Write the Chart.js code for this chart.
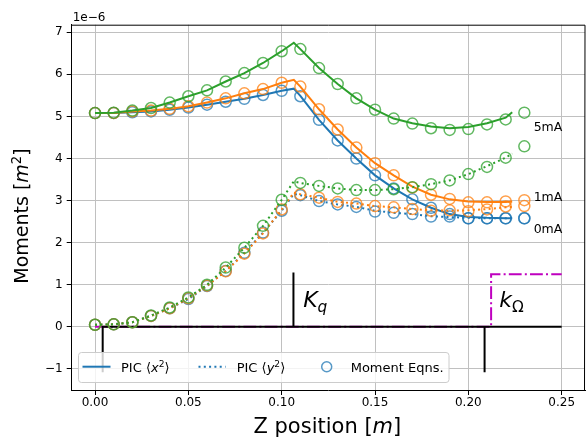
<!DOCTYPE html>
<html>
<head>
<meta charset="utf-8">
<script src="https://cdn.jsdelivr.net/npm/chart.js@4.4.1/dist/chart.umd.min.js"></script>
<style>
  html, body { margin: 0; padding: 0; background: #fff; overflow: hidden; }
  #wrap { position: relative; width: 592px; height: 437px; }
</style>
</head>
<body>
<div id="wrap"><canvas id="chart"></canvas></div>
<script>
// Z positions of the moment-equation markers and the PIC curves [m]
const momZ = [0.00, 0.01, 0.02, 0.03, 0.04, 0.05, 0.06, 0.07, 0.08, 0.09, 0.10, 0.11,
              0.12, 0.13, 0.14, 0.15, 0.16, 0.17, 0.18, 0.19, 0.20, 0.21, 0.22, 0.23]
const picZ = [0.00, 0.01, 0.02, 0.03, 0.04, 0.05, 0.06, 0.07, 0.08, 0.09, 0.10, 0.1065,
              0.11, 0.12, 0.13, 0.14, 0.15, 0.16, 0.17, 0.18, 0.19, 0.20, 0.21, 0.22, 0.2235]

// PIC <x^2> (units of 1e-6 m^2)
const pic0mA_x2 = [5.08, 5.08, 5.10, 5.12, 5.16, 5.21, 5.28, 5.35, 5.42, 5.51, 5.61, 5.66,
                   5.49, 4.92, 4.43, 4.00, 3.60, 3.29, 3.03, 2.83, 2.68, 2.61, 2.59, 2.58, 2.58]
const pic1mA_x2 = [5.08, 5.08, 5.12, 5.14, 5.18, 5.24, 5.33, 5.43, 5.55, 5.65, 5.80, 5.87,
                   5.71, 5.17, 4.69, 4.26, 3.89, 3.60, 3.33, 3.14, 3.03, 2.98, 2.97, 2.97, 2.98]
const pic5mA_x2 = [5.08, 5.09, 5.14, 5.20, 5.33, 5.48, 5.62, 5.83, 6.03, 6.27, 6.55, 6.75,
                   6.60, 6.15, 5.77, 5.43, 5.16, 4.95, 4.84, 4.76, 4.72, 4.75, 4.84, 4.97, 5.10]
// PIC <y^2>
const pic0mA_y2 = [0.05, 0.06, 0.11, 0.26, 0.44, 0.66, 0.97, 1.33, 1.76, 2.24, 2.76, 3.16,
                   3.13, 2.99, 2.91, 2.85, 2.76, 2.71, 2.68, 2.63, 2.61, 2.59, 2.58, 2.58, 2.58]
const pic1mA_y2 = [0.05, 0.06, 0.11, 0.26, 0.44, 0.68, 0.98, 1.32, 1.74, 2.22, 2.79, 3.19,
                   3.15, 3.07, 2.97, 2.93, 2.87, 2.84, 2.80, 2.77, 2.76, 2.77, 2.80, 2.84, 2.85]
const pic5mA_y2 = [0.05, 0.06, 0.11, 0.27, 0.46, 0.70, 1.00, 1.41, 1.88, 2.40, 3.02, 3.46,
                   3.42, 3.35, 3.29, 3.25, 3.25, 3.27, 3.32, 3.39, 3.48, 3.63, 3.82, 4.02, 4.12]

// moment equations
const mom0mA_x2 = [5.08, 5.08, 5.10, 5.12, 5.16, 5.21, 5.28, 5.35, 5.42, 5.51, 5.61, 5.48,
                   4.92, 4.43, 4.00, 3.60, 3.29, 3.03, 2.83, 2.62, 2.58, 2.58, 2.58, 2.58]
const mom1mA_x2 = [5.08, 5.08, 5.12, 5.14, 5.18, 5.24, 5.33, 5.43, 5.55, 5.65, 5.80, 5.71,
                   5.17, 4.69, 4.26, 3.89, 3.60, 3.31, 3.14, 3.04, 2.96, 2.96, 2.98, 3.01]
const mom5mA_x2 = [5.08, 5.09, 5.14, 5.20, 5.33, 5.48, 5.62, 5.83, 6.03, 6.27, 6.55, 6.60,
                   6.15, 5.77, 5.43, 5.16, 4.95, 4.83, 4.72, 4.68, 4.70, 4.81, 4.93, 5.09]
const mom0mA_y2 = [0.05, 0.06, 0.11, 0.26, 0.44, 0.66, 0.97, 1.33, 1.76, 2.24, 2.76, 3.13,
                   2.99, 2.91, 2.85, 2.74, 2.71, 2.68, 2.62, 2.68, 2.58, 2.58, 2.58, 2.58]
const mom1mA_y2 = [0.05, 0.06, 0.11, 0.26, 0.44, 0.68, 0.98, 1.32, 1.74, 2.22, 2.79, 3.15,
                   3.07, 2.97, 2.93, 2.87, 2.84, 2.80, 2.76, 2.77, 2.75, 2.79, 2.86, 2.87]
const mom5mA_y2 = [0.05, 0.06, 0.11, 0.27, 0.46, 0.70, 1.00, 1.41, 1.88, 2.40, 3.02, 3.42,
                   3.35, 3.29, 3.25, 3.25, 3.27, 3.32, 3.39, 3.48, 3.63, 3.80, 4.02, 4.29]

// lattice element markers (quadrupole K_q and solenoid k_Omega)
const kqZ = [0.0041, 0.0041, 0.1063, 0.1063, 0.1063, 0.2087, 0.2087, 0.2087, 0.25]
const kqV = [-1.08, 0, 0, 1.29, 0, 0, -1.08, 0, 0]
const kOmZ = [0.00, 0.2122, 0.2122, 0.25]
const kOmV = [0, 0, 1.25, 1.25]

const xTicks = [0.00, 0.05, 0.10, 0.15, 0.20, 0.25]
const yTicks = [-1, 0, 1, 2, 3, 4, 5, 6, 7]

const FONT = "'DejaVu Sans', sans-serif"
const BLUE = '#1f77b4', ORANGE = '#ff7f0e', GREEN = '#2ca02c'
const FADED = { [BLUE]: 'rgba(31,119,180,0.75)', [ORANGE]: 'rgba(255,127,14,0.75)', [GREEN]: 'rgba(44,160,44,0.75)' }

const toXY = (xs, ys) => xs.map((x, i) => ({ x, y: ys[i] }))

function picLine(label, ys, color, dotted, order) {
  return {
    label, data: toXY(picZ, ys), showLine: true, borderColor: color, borderWidth: 2,
    borderDash: dotted ? [2, 3.3] : [], pointRadius: 0, tension: 0, fill: false, order,
  }
}
function momMarks(label, ys, color, order) {
  return {
    label, data: toXY(momZ, ys), showLine: false, pointStyle: 'circle', pointRadius: 5.5,
    pointBorderWidth: 1.5, pointBorderColor: FADED[color], pointBackgroundColor: 'rgba(0,0,0,0)', order,
  }
}

// mixed italic / super / subscript text, roughly like matplotlib mathtext
function rich(ctx, parts, x, y, size, align) {
  const segs = parts.map(p => {
    const s = p.sup || p.sub ? size * 0.7 : size
    const font = `${p.it ? 'italic ' : ''}${s}px ${FONT}`
    ctx.font = font
    return { t: p.t, font, w: ctx.measureText(p.t).width, dy: p.sup ? -size * 0.36 : p.sub ? size * 0.22 : 0 }
  })
  const total = segs.reduce((a, s) => a + s.w, 0)
  let cx = align === 'center' ? x - total / 2 : x
  ctx.textAlign = 'left'
  ctx.textBaseline = 'alphabetic'
  for (const s of segs) { ctx.font = s.font; ctx.fillText(s.t, cx, y + s.dy); cx += s.w }
}

const framePlugin = {
  id: 'frame',
  beforeDatasetsDraw(chart) {
    const { ctx, chartArea: a } = chart
    ctx.save()
    ctx.strokeStyle = '#000'
    ctx.lineWidth = 1
    ctx.beginPath()
    ctx.moveTo(a.left, a.top + 0.5)
    ctx.lineTo(a.right, a.top + 0.5)
    ctx.lineTo(a.right - 0.5, a.bottom)
    ctx.stroke()
    ctx.restore()
  },
}

const textPlugin = {
  id: 'texts',
  afterDraw(chart) {
    const { ctx, chartArea: a, scales: { x, y } } = chart
    ctx.save()
    ctx.fillStyle = '#000'

    ctx.font = `12px ${FONT}`
    ctx.textAlign = 'left'
    ctx.textBaseline = 'alphabetic'
    ctx.fillText('1e\u22126', a.left + 1, 21)

    rich(ctx, [{ t: 'Z position [' }, { t: 'm', it: true }, { t: ']' }], (a.left + a.right) / 2 - 1, 433, 21, 'center')

    ctx.save()
    ctx.translate(28, 216)
    ctx.rotate(-Math.PI / 2)
    rich(ctx, [{ t: 'Moments [' }, { t: 'm', it: true }, { t: '2', sup: true }, { t: ']' }], 0, 0, 19, 'center')
    ctx.restore()

    rich(ctx, [{ t: 'K', it: true }, { t: 'q', it: true, sub: true }], x.getPixelForValue(0.1115), y.getPixelForValue(0.47), 22)
    rich(ctx, [{ t: 'k', it: true }, { t: '\u03A9', sub: true }], x.getPixelForValue(0.2165), y.getPixelForValue(0.47), 22)

    ctx.font = `12.5px ${FONT}`
    ctx.textAlign = 'left'
    const lx = x.getPixelForValue(0.235)
    ctx.fillText('5mA', lx, y.getPixelForValue(4.65))
    ctx.fillText('1mA', lx, y.getPixelForValue(2.99))
    ctx.fillText('0mA', lx, y.getPixelForValue(2.24))

    // legend
    ctx.fillStyle = 'rgba(255,255,255,0.8)'
    ctx.strokeStyle = '#cccccc'
    ctx.lineWidth = 1
    ctx.beginPath()
    ctx.roundRect(78.5, 352.5, 370.5, 30, 3)
    ctx.fill()
    ctx.stroke()
    const ly = 366.7
    ctx.strokeStyle = BLUE
    ctx.lineWidth = 2
    ctx.beginPath(); ctx.moveTo(82.5, ly); ctx.lineTo(110.5, ly); ctx.stroke()
    ctx.setLineDash([2, 3.3])
    ctx.beginPath(); ctx.moveTo(198.5, ly); ctx.lineTo(225.5, ly); ctx.stroke()
    ctx.setLineDash([])
    ctx.strokeStyle = FADED[BLUE]
    ctx.lineWidth = 1.5
    ctx.beginPath(); ctx.arc(326.7, ly, 5, 0, Math.PI * 2); ctx.stroke()
    ctx.fillStyle = '#000'
    rich(ctx, [{ t: 'PIC \u27E8' }, { t: 'x', it: true }, { t: '2', sup: true }, { t: '\u27E9' }], 121, 371.5, 13)
    rich(ctx, [{ t: 'PIC \u27E8' }, { t: 'y', it: true }, { t: '2', sup: true }, { t: '\u27E9' }], 236.7, 371.5, 13)
    rich(ctx, [{ t: 'Moment Eqns.' }], 350.7, 371.5, 13)
    ctx.restore()
  },
}

new Chart(document.getElementById('chart'), {
  type: 'scatter',
  data: {
    datasets: [
      momMarks('5mA moments x2', mom5mA_x2, GREEN, 1),
      momMarks('5mA moments y2', mom5mA_y2, GREEN, 2),
      picLine('5mA PIC y2', pic5mA_y2, GREEN, true, 3),
      picLine('5mA PIC x2', pic5mA_x2, GREEN, false, 4),
      momMarks('1mA moments x2', mom1mA_x2, ORANGE, 5),
      momMarks('1mA moments y2', mom1mA_y2, ORANGE, 6),
      picLine('1mA PIC y2', pic1mA_y2, ORANGE, true, 7),
      picLine('1mA PIC x2', pic1mA_x2, ORANGE, false, 8),
      momMarks('0mA moments x2', mom0mA_x2, BLUE, 9),
      momMarks('0mA moments y2', mom0mA_y2, BLUE, 10),
      picLine('0mA PIC y2', pic0mA_y2, BLUE, true, 11),
      picLine('0mA PIC x2', pic0mA_x2, BLUE, false, 12),
      {
        label: 'K_q', data: toXY(kqZ, kqV), showLine: true, borderColor: '#000', borderWidth: 2,
        pointRadius: 0, tension: 0, order: 20,
      },
      {
        label: 'k_Omega', data: toXY(kOmZ, kOmV), showLine: true, borderColor: '#bf00bf', borderWidth: 2,
        borderDash: [12.8, 3.2, 2, 3.2], pointRadius: 0, tension: 0, order: 21,
      },
    ],
  },
  options: {
    responsive: true,
    maintainAspectRatio: false,
    animation: false,
    events: [],
    layout: { padding: { top: 24.7, right: 1.4, left: 0, bottom: 0 } },
    plugins: { legend: { display: false }, tooltip: { enabled: false } },
    scales: {
      x: {
        type: 'linear', min: -0.0125, max: 0.2625,
        afterBuildTicks: (s) => { s.ticks = xTicks.map(v => ({ value: v })) },
        afterFit: (s) => { s.height = 47 },
        ticks: { callback: (v) => v.toFixed(2), font: { family: FONT, size: 12 }, color: '#000', padding: 1, maxRotation: 0 },
        grid: { color: '#c0c0c0', lineWidth: 1, tickLength: 5, tickColor: '#000' },
        border: { color: '#000', width: 1 },
      },
      y: {
        type: 'linear', min: -1.5, max: 7.18,
        afterBuildTicks: (s) => { s.ticks = yTicks.map(v => ({ value: v })) },
        afterFit: (s) => { s.width = 71.7 },
        ticks: { callback: (v) => v < 0 ? '\u2212' + Math.abs(v) : String(v), font: { family: FONT, size: 12 }, color: '#000', padding: 4 },
        grid: { color: '#c0c0c0', lineWidth: 1, tickLength: 5, tickColor: '#000' },
        border: { color: '#000', width: 1 },
      },
    },
  },
  plugins: [framePlugin, textPlugin],
})
</script>
</body>
</html>
